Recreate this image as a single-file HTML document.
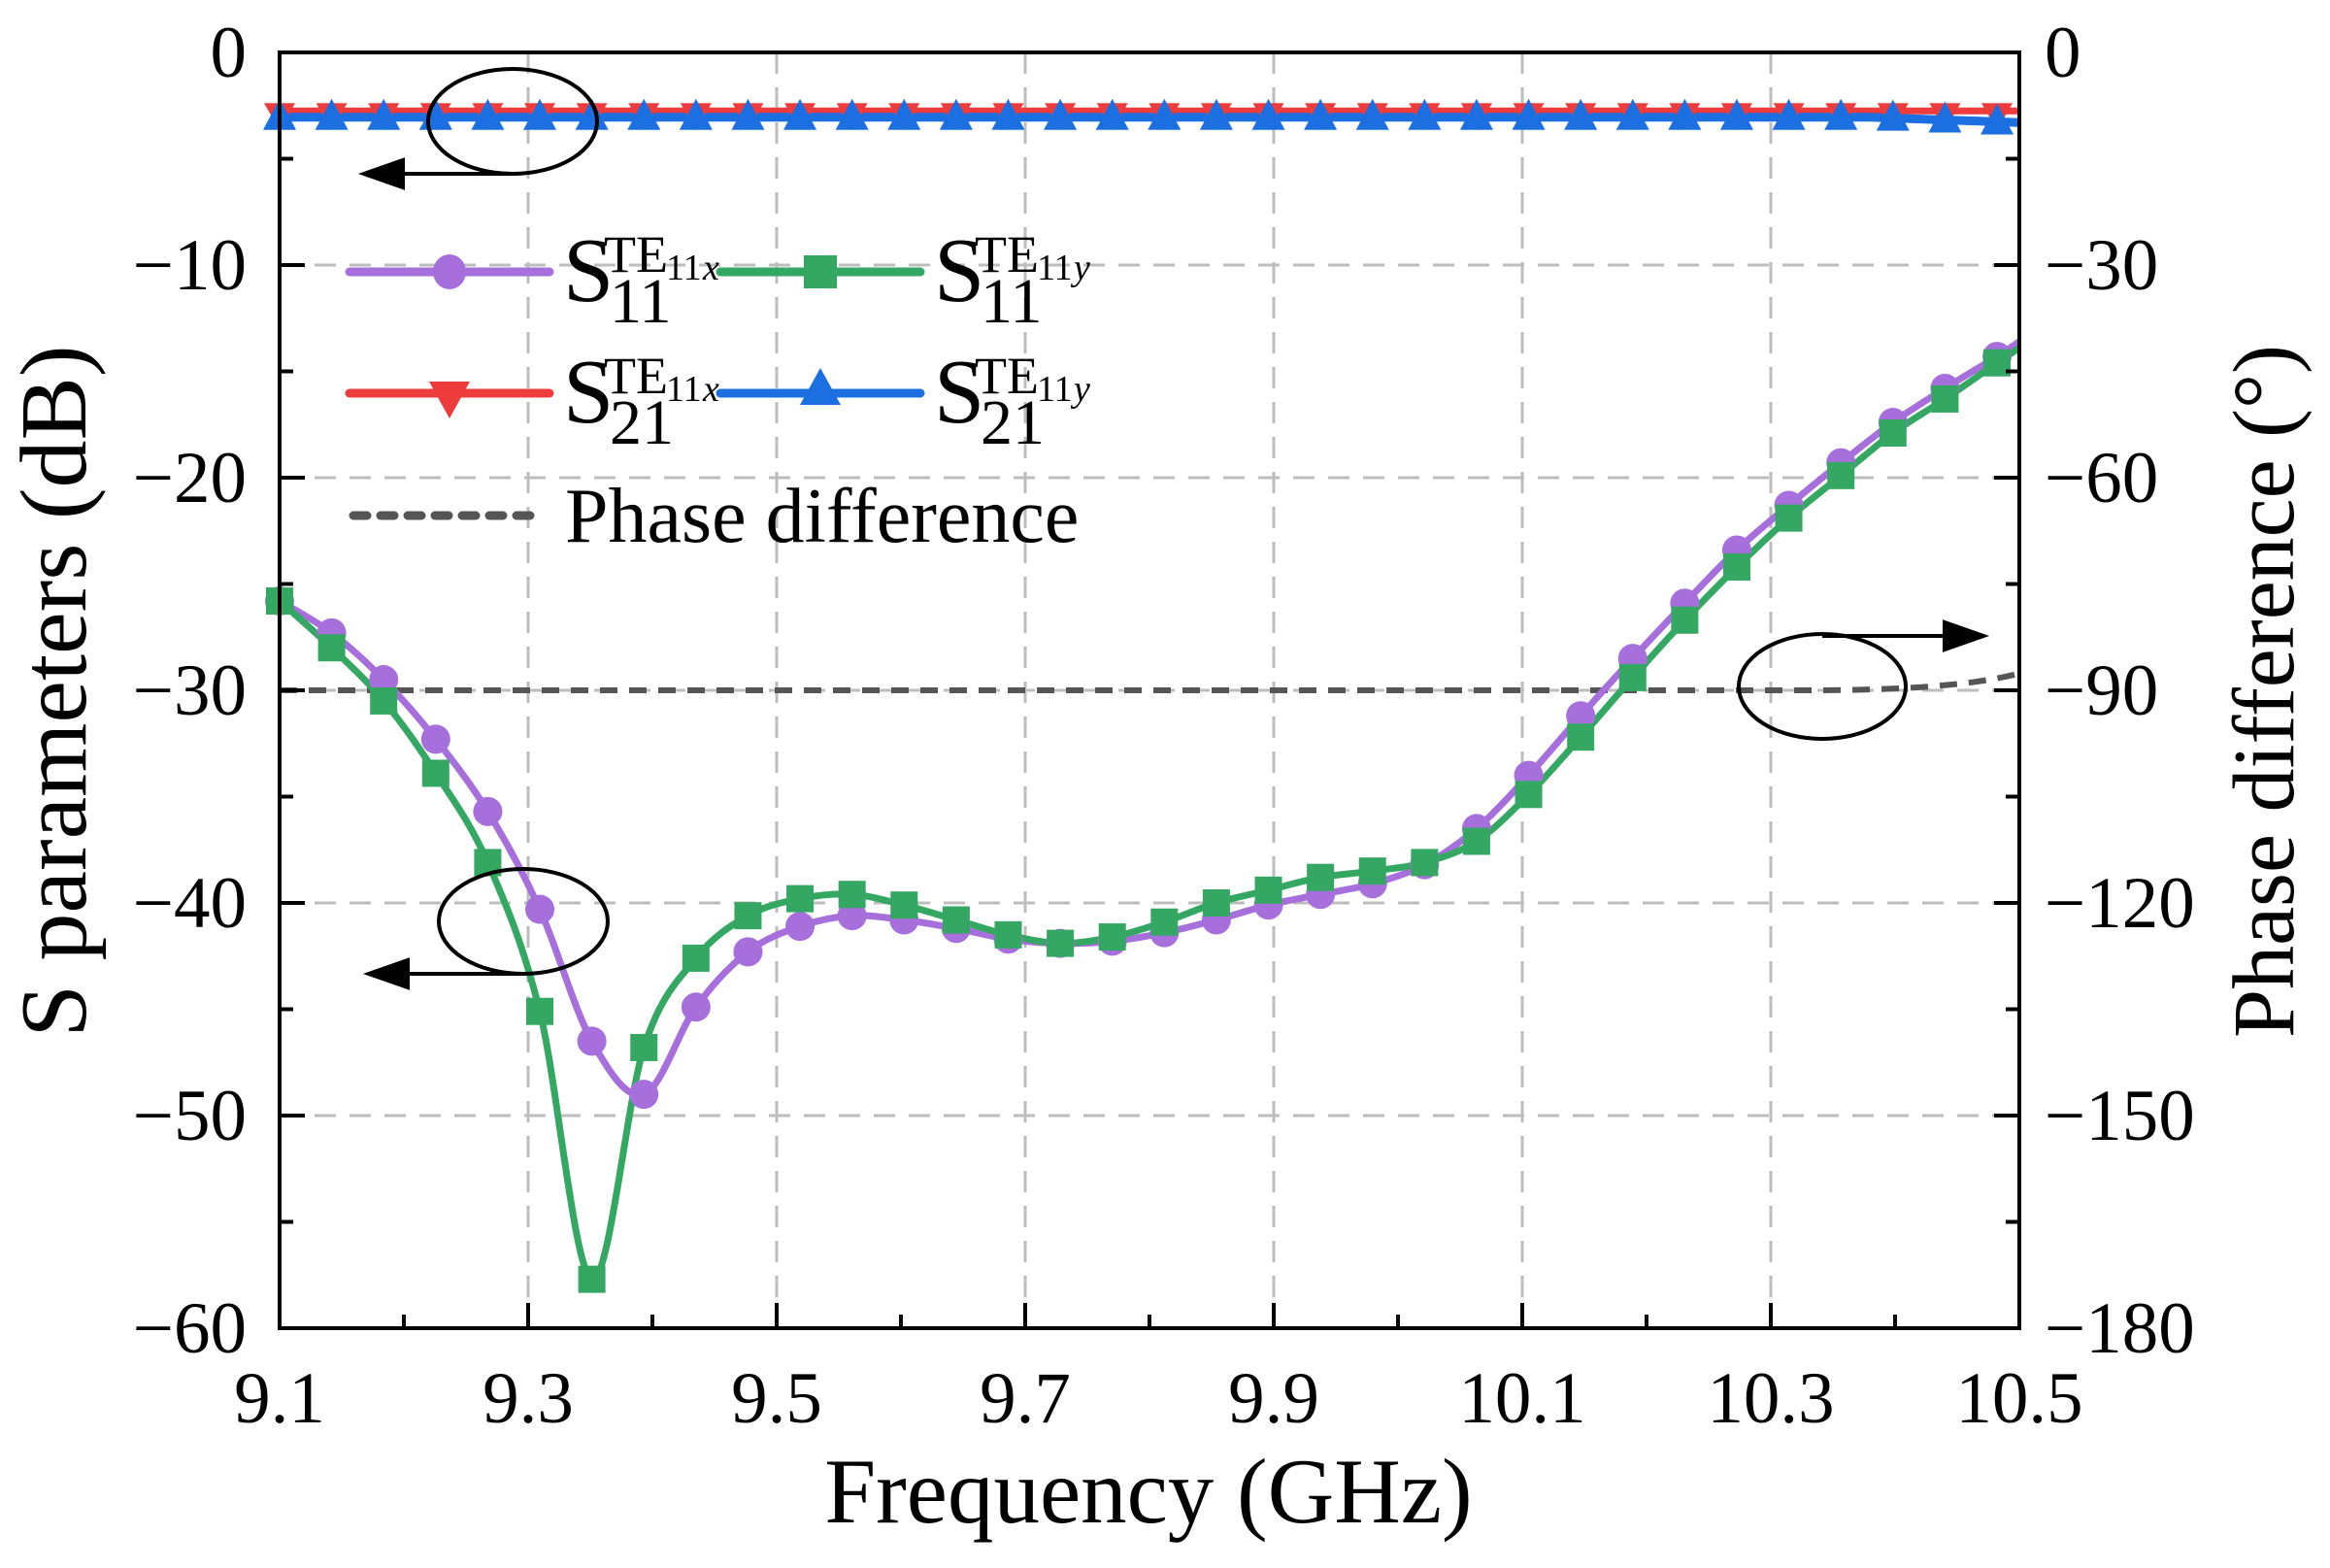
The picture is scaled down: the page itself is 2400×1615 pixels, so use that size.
<!DOCTYPE html>
<html><head><meta charset="utf-8"><style>
html,body{margin:0;padding:0;background:#fff;}
svg{display:block;font-family:"Liberation Serif",serif;}
</style></head><body>
<svg id="s" width="2400" height="1615" xmlns="http://www.w3.org/2000/svg">
<g id="grid" stroke="#bdbdbd" stroke-width="3" stroke-dasharray="22,14" fill="none"></g>
<g id="series"></g>
<g id="axes" stroke="#000" stroke-width="4" fill="none"></g>
<g id="labels" font-size="75" fill="#000"></g>
<g id="legend"></g>
<g id="ann" stroke="#000" stroke-width="4" fill="none">
<ellipse cx="528" cy="125" rx="87" ry="54"/>
<line x1="533" y1="179" x2="400" y2="179"/>
<polygon points="375,179 415,165 415,193" fill="#000"/>
<ellipse cx="539" cy="949" rx="87" ry="54"/>
<line x1="539" y1="1003" x2="405" y2="1003"/>
<polygon points="380,1003 420,989 420,1017" fill="#000"/>
<ellipse cx="1877" cy="707" rx="86" ry="54"/>
<line x1="1877" y1="655" x2="2018" y2="655"/>
<polygon points="2043,655 2003,641 2003,669" fill="#000"/>
</g>
<text x="1183" y="1568" font-size="95" text-anchor="middle">Frequency (GHz)</text>
<text transform="translate(88,712) rotate(-90)" font-size="98" text-anchor="middle">S parameters (dB)</text>
<text transform="translate(2362,712) rotate(-90)" font-size="90" text-anchor="middle">Phase difference (°)</text>
</svg>
<script>
const L=288,R=2080,T=54,B=1368;
const X=f=>L+(f-9.1)/1.4*(R-L), Y=d=>T+(-d)/60*(B-T);
const NS="http://www.w3.org/2000/svg";
function el(p,tag,a,txt){const e=document.createElementNS(NS,tag);for(const k in a)e.setAttribute(k,a[k]);if(txt!=null)e.textContent=txt;document.getElementById(p).appendChild(e);return e;}
for(let f=9.3;f<10.4;f+=0.2)el('grid','line',{x1:X(f),x2:X(f),y1:T,y2:B});
for(let d=-10;d>=-50;d-=10)el('grid','line',{x1:L,x2:R,y1:Y(d),y2:Y(d)});
el('axes','rect',{x:L,y:T,width:R-L,height:B-T});
for(let i=1;i<14;i++){const x=X(9.1+i*0.1);el('axes','line',{x1:x,x2:x,y1:B,y2:B-(i%2?14:26)});}
for(let i=1;i<12;i++){const y=Y(-i*5);const len=i%2?14:26;el('axes','line',{x1:L,x2:L+len,y1:y,y2:y});el('axes','line',{x1:R,x2:R-len,y1:y,y2:y});}
for(let i=0;i<=7;i++){const f=9.1+i*0.2;el('labels','text',{x:X(f),y:1465,'text-anchor':'middle'},f.toFixed(1));}
for(let i=0;i<=6;i++){const d=-i*10;el('labels','text',{x:254,y:Y(d)+25,'text-anchor':'end'},d==0?'0':'\u2212'+(-d));
 const p=-i*30;el('labels','text',{x:2106,y:Y(d)+25},p==0?'0':'\u2212'+(-p));}
const step=0.04188;
const px=[-25.8,-27.3,-29.5,-32.3,-35.7,-40.3,-46.5,-49,-44.9,-42.3,-41.1,-40.6,-40.8,-41.2,-41.7,-41.9,-41.8,-41.4,-40.8,-40.1,-39.6,-39.1,-38.2,-36.5,-34,-31.2,-28.5,-25.9,-23.4,-21.3,-19.3,-17.4,-15.8,-14.3];
const gy=[-25.8,-28,-30.5,-33.9,-38.1,-45.1,-57.7,-46.8,-42.6,-40.6,-39.8,-39.6,-40.1,-40.8,-41.5,-41.9,-41.6,-40.9,-40,-39.4,-38.8,-38.5,-38.1,-37.1,-34.9,-32.2,-29.4,-26.7,-24.2,-21.9,-19.9,-17.9,-16.3,-14.6];
function pts(arr,end){const p=arr.map((d,i)=>[X(9.1+i*step),Y(d)]);p.push([R,Y(end)]);return p;}
function smooth(p){let s=`M${p[0][0]},${p[0][1]}`;for(let i=0;i<p.length-1;i++){const p0=p[i-1]||p[i],p1=p[i],p2=p[i+1],p3=p[i+2]||p2;
 s+=` C${p1[0]+(p2[0]-p0[0])/6},${p1[1]+(p2[1]-p0[1])/6} ${p2[0]-(p3[0]-p1[0])/6},${p2[1]-(p3[1]-p1[1])/6} ${p2[0]},${p2[1]}`;}return s;}
const P=pts(px,-13.6),G=pts(gy,-13.9);
el('series','path',{d:`M${L},${Y(-30)} L${X(10.33)},${Y(-30)} Q${X(10.45)},${Y(-30)} ${R},${Y(-29.2)}`,stroke:'#555',fill:'none','stroke-width':6,'stroke-dasharray':'18,12'});
const red='#ee3b3b',blue='#1c6fe0';
el('series','line',{x1:L,x2:R,y1:Y(-2.75),y2:Y(-2.75),stroke:red,'stroke-width':7});
el('series','path',{d:`M${L},${Y(-3.05)} L${X(10.38)},${Y(-3.05)} L${R},${Y(-3.3)}`,stroke:blue,'stroke-width':9,fill:'none'});
for(let i=0;i<=33;i++){const x=X(9.1+i*step);const yr=Y(-2.75);
 el('series','polygon',{points:`${x-16},${yr-8} ${x+16},${yr-8} ${x},${yr+20}`,fill:red});}
for(let i=0;i<=33;i++){const f=9.1+i*step;const x=X(f);const yb=Y(f>10.38?-3.05-0.25*(f-10.38)/0.12:-3.05);
 el('series','polygon',{points:`${x-17},${yb+13} ${x+17},${yb+13} ${x},${yb-19}`,fill:blue});}
const pu='#a66fdc',gr='#34a862';
el('series','path',{d:smooth(P),stroke:pu,'stroke-width':7,fill:'none'});
el('series','path',{d:smooth(G),stroke:gr,'stroke-width':7,fill:'none'});
P.slice(0,34).forEach(p=>el('series','circle',{cx:p[0],cy:p[1],r:15,fill:pu}));
G.slice(0,34).forEach(p=>el('series','rect',{x:p[0]-14,y:p[1]-14,width:28,height:28,fill:gr}));
function leg(x,y,c,m,sub,ax){el('legend','line',{x1:x,x2:x+206,y1:y,y2:y,stroke:c,'stroke-width':9,'stroke-linecap':'round'});
 const mx=x+103;
 if(m=='c')el('legend','ellipse',{cx:mx,cy:y,rx:17,ry:18,fill:c});
 if(m=='s')el('legend','rect',{x:mx-17,y:y-17,width:34,height:34,fill:c});
 if(m=='d')el('legend','polygon',{points:`${mx-21},${y-12} ${mx+21},${y-12} ${mx},${y+26}`,fill:c});
 if(m=='u')el('legend','polygon',{points:`${mx-21},${y+12} ${mx+21},${y+12} ${mx},${y-26}`,fill:c});
 el('legend','text',{x:x+220,y:y+30,'font-size':94},'S');
 el('legend','text',{x:x+268,y:y+52,'font-size':66},sub);
 el('legend','text',{x:x+262,y:y,'font-size':54},'TE');
 el('legend','text',{x:x+326,y:y+8,'font-size':38},'11');
 el('legend','text',{x:x+364,y:y+8,'font-size':38,'font-style':'italic'},ax);
}
leg(360,280,pu,'c','11','x');leg(742,280,gr,'s','11','y');
leg(360,405,red,'d','21','x');leg(742,405,blue,'u','21','y');
el('legend','line',{x1:364,x2:560,y1:531,y2:531,stroke:'#555','stroke-width':9,'stroke-dasharray':'14,14','stroke-linecap':'round'});
el('legend','text',{x:582,y:558,'font-size':80},'Phase difference');
</script>
</body></html>
